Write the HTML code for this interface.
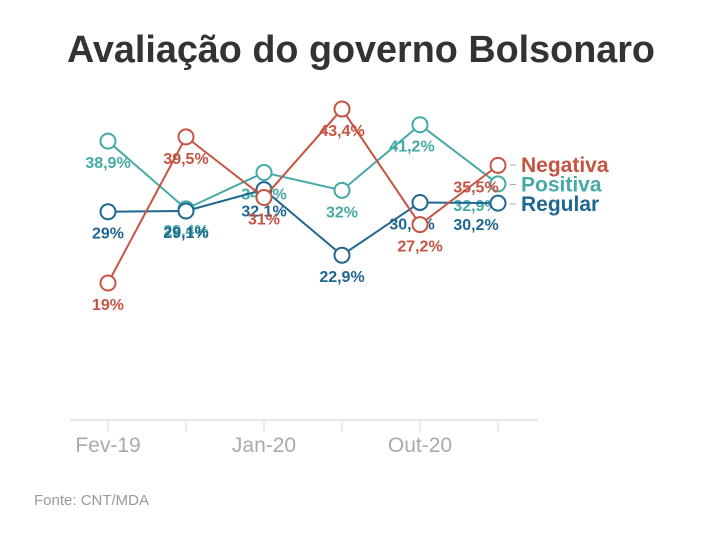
<!DOCTYPE html>
<html><head><meta charset="utf-8"><style>
body{margin:0;width:720px;height:536px;background:#fff;font-family:"Liberation Sans",sans-serif;overflow:hidden}
</style></head><body>
<svg width="720" height="536" xmlns="http://www.w3.org/2000/svg">
<text x="361" y="62" text-anchor="middle" font-size="38" font-weight="bold" fill="#333" textLength="588" lengthAdjust="spacingAndGlyphs">Avaliação do governo Bolsonaro</text>
<g id="axis"></g>
<g id="lines"></g>
<text x="34" y="505" font-size="15" fill="#999">Fonte: CNT/MDA</text>
</svg>
<script>
const categories=["Fev-19","Jun-19","Jan-20","Mai-20","Out-20","Dez-20"];
const tickLabels=["Fev-19","","Jan-20","","Out-20",""];
const negativa=[19,39.5,31,43.4,27.2,35.5];
const positiva=[38.9,29.4,34.5,32,41.2,32.9];
const regular=[29,29.1,32.1,22.9,30.3,30.2];
const seriesNames=["Negativa","Positiva","Regular"];
const NS="http://www.w3.org/2000/svg";
const x=i=>108+i*78;
const y=v=>418.5-v*7.13;
const fmt=v=>String(v).replace('.',',')+'%';
function mk(tag,attrs,parent){const e=document.createElementNS(NS,tag);for(const k in attrs)e.setAttribute(k,attrs[k]);parent.appendChild(e);return e;}
const ax=document.getElementById('axis');
let l=mk('line',{x1:70,x2:538,y1:420,y2:420,stroke:'#e6e6e6','stroke-width':2},ax);


categories.forEach((c,i)=>{
 const t=mk('line',{x1:x(i),x2:x(i),y1:420,y2:432,stroke:'#e6e6e6','stroke-width':1.5},ax);
 
 
 if(tickLabels[i]){const tx=mk('text',{x:x(i),y:452,'text-anchor':'middle','font-size':21,fill:'#aaa'},ax);tx.textContent=tickLabels[i];
 
 }
});
const series=[[positiva,'#45aaa6'],[regular,'#1f6690'],[negativa,'#c65443']];
const legendY={Negativa:0,Positiva:1,Regular:2};
const lg=document.getElementById('lines');
series.forEach(([d,col],si)=>{
 const name=[ "Positiva","Regular","Negativa"][si];
 const g=mk('g',{},lg);
 
 
 const p=mk('polyline',{points:d.map((v,i)=>x(i)+','+y(v)).join(' '),fill:'none',stroke:col,'stroke-width':2},g);
 
 
 d.forEach((v,i)=>{
  const c=mk('circle',{cx:x(i),cy:y(v),r:7.5,fill:'#fff',stroke:col,'stroke-width':2},g);
  
  
 });
 d.forEach((v,i)=>{
  const dx=i===5?-22:(i===4&&name!=='Negativa'?-8:0);
  const t=mk('text',{x:x(i)+dx,y:y(v)+27,'text-anchor':'middle','font-size':16,'font-weight':'bold',fill:col},g);
  t.textContent=fmt(v);
  
  
 });
 const ly=165+legendY[name]*19.5;
 const dash=mk('line',{x1:510,x2:516,y1:ly,y2:ly,stroke:'#aaa','stroke-width':1},g);
 
 
 const lt=mk('text',{x:521,y:ly+7,'font-size':21,'font-weight':'bold',fill:col},g);
 lt.textContent=name;
 
 
});
</script>
</body></html>
